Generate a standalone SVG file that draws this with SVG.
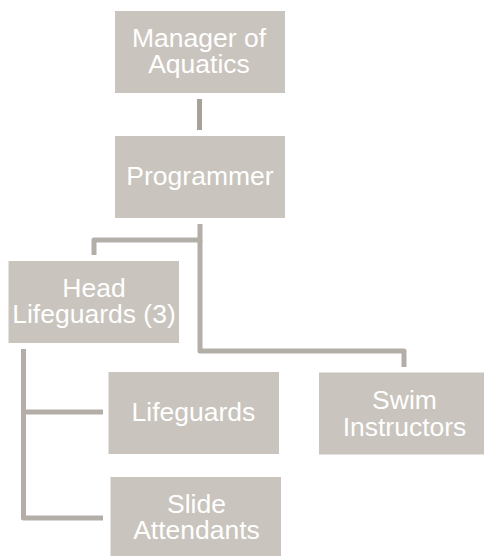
<svg xmlns="http://www.w3.org/2000/svg" width="484" height="556" viewBox="0 0 484 556">
  <style>
    .box { fill: #C9C4BD; }
    .label { fill: #FFFFFF; font-family: "Liberation Sans", Arial, sans-serif; font-size: 26.5px; text-anchor: middle; }
    .link { fill: none; stroke: #B3AEA7; stroke-width: 5; stroke-linejoin: round; }
    .link.strong { stroke: #A6A199; }
  </style>
  <rect width="484" height="556" fill="#FFFFFF"/>

  <g id="connectors">
    <line class="link strong" x1="199.5" y1="99" x2="199.5" y2="130"/>
    <path class="link" d="M200 224 V240 H94 V255"/>
    <path class="link" d="M200 240 V351 H404 V367"/>
    <path class="link" d="M23.5 349 V518 H103"/>
    <line class="link" x1="23.5" y1="412" x2="103" y2="412"/>
  </g>

  <g id="manager">
    <rect class="box" x="115" y="11" width="170" height="82"/>
    <text class="label" x="199" y="47">Manager of</text>
    <text class="label" x="199" y="73">Aquatics</text>
  </g>

  <g id="programmer">
    <rect class="box" x="115" y="136" width="170" height="82"/>
    <text class="label" x="200" y="185">Programmer</text>
  </g>

  <g id="head-lifeguards">
    <rect class="box" x="8.5" y="261" width="170.5" height="82"/>
    <text class="label" x="94" y="297">Head</text>
    <text class="label" x="94" y="323">Lifeguards (3)</text>
  </g>

  <g id="lifeguards">
    <rect class="box" x="108.5" y="372" width="170.5" height="82"/>
    <text class="label" x="193.5" y="421">Lifeguards</text>
  </g>

  <g id="slide-attendants">
    <rect class="box" x="110.5" y="477" width="170.5" height="82"/>
    <text class="label" x="196.5" y="513">Slide</text>
    <text class="label" x="196.5" y="539">Attendants</text>
  </g>

  <g id="swim-instructors">
    <rect class="box" x="319" y="372.5" width="171" height="82"/>
    <text class="label" x="404.5" y="409">Swim</text>
    <text class="label" x="404.5" y="435.5">Instructors</text>
  </g>
</svg>
